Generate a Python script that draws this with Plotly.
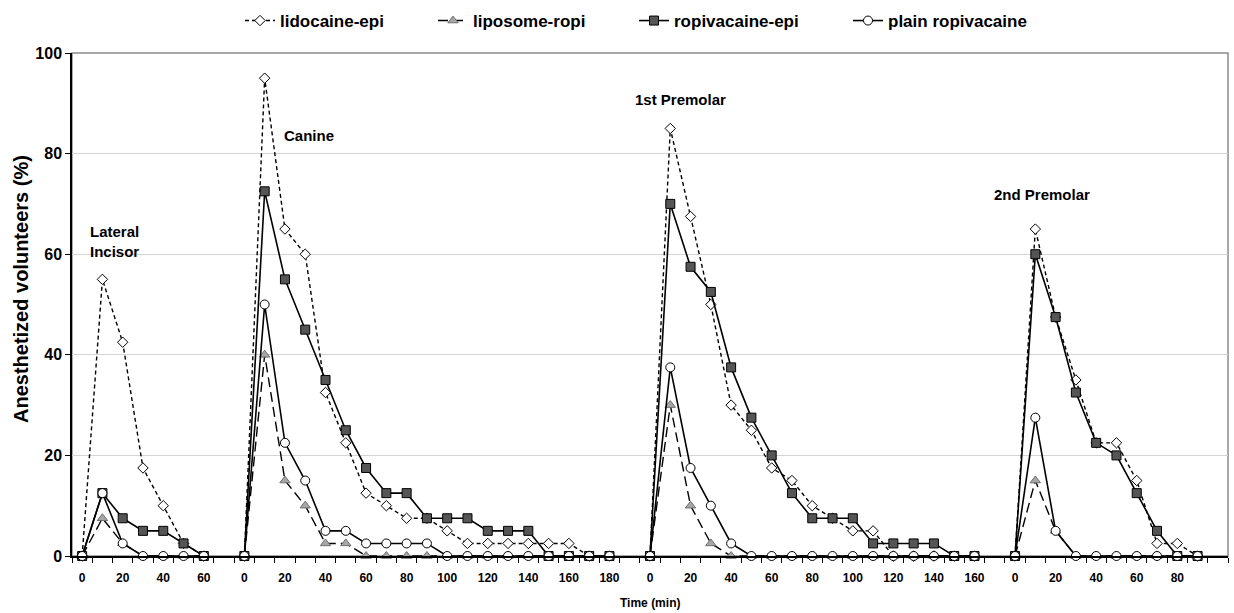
import plotly.graph_objects as go

# Sampling times (min) for each tooth region
times_lateral = [0, 10, 20, 30, 40, 50, 60]
times_canine = [0, 10, 20, 30, 40, 50, 60, 70, 80, 90, 100, 110, 120, 130, 140, 150, 160, 170, 180]
times_pm1 = [0, 10, 20, 30, 40, 50, 60, 70, 80, 90, 100, 110, 120, 130, 140, 150, 160]
times_pm2 = [0, 10, 20, 30, 40, 50, 60, 70, 80, 90]

region_names = ["Lateral<br>Incisor", "Canine", "1st Premolar", "2nd Premolar"]

# Anesthetized volunteers (%) per formulation and region
lido_lateral = [0, 55, 42.5, 17.5, 10, 2.5, 0]
lido_canine = [0, 95, 65, 60, 32.5, 22.5, 12.5, 10, 7.5, 7.5, 5, 2.5, 2.5, 2.5, 2.5, 2.5, 2.5, 0, 0]
lido_pm1 = [0, 85, 67.5, 50, 30, 25, 17.5, 15, 10, 7.5, 5, 5, 0, 0, 0, 0, 0]
lido_pm2 = [0, 65, 47.5, 35, 22.5, 22.5, 15, 2.5, 2.5, 0]

lipo_lateral = [0, 7.5, 2.5, 0, 0, 0, 0]
lipo_canine = [0, 40, 15, 10, 2.5, 2.5, 0, 0, 0, 0, 0, 0, 0, 0, 0, 0, 0, 0, 0]
lipo_pm1 = [0, 30, 10, 2.5, 0, 0, 0, 0, 0, 0, 0, 0, 0, 0, 0, 0, 0]
lipo_pm2 = [0, 15, 5, 0, 0, 0, 0, 0, 0, 0]

ropi_epi_lateral = [0, 12.5, 7.5, 5, 5, 2.5, 0]
ropi_epi_canine = [0, 72.5, 55, 45, 35, 25, 17.5, 12.5, 12.5, 7.5, 7.5, 7.5, 5, 5, 5, 0, 0, 0, 0]
ropi_epi_pm1 = [0, 70, 57.5, 52.5, 37.5, 27.5, 20, 12.5, 7.5, 7.5, 7.5, 2.5, 2.5, 2.5, 2.5, 0, 0]
ropi_epi_pm2 = [0, 60, 47.5, 32.5, 22.5, 20, 12.5, 5, 0, 0]

plain_lateral = [0, 12.5, 2.5, 0, 0, 0, 0]
plain_canine = [0, 50, 22.5, 15, 5, 5, 2.5, 2.5, 2.5, 2.5, 0, 0, 0, 0, 0, 0, 0, 0, 0]
plain_pm1 = [0, 37.5, 17.5, 10, 2.5, 0, 0, 0, 0, 0, 0, 0, 0, 0, 0, 0, 0]
plain_pm2 = [0, 27.5, 5, 0, 0, 0, 0, 0, 0, 0]

panels_t = [times_lateral, times_canine, times_pm1, times_pm2]

# Category positions: regions laid end to end with one empty slot between them
starts = []
pos = 0
for t in panels_t:
    starts.append(pos)
    pos += len(t) + 1
n_slots = pos - 1

def join(series_parts):
    xs, ys = [], []
    for k, (t, vals) in enumerate(zip(panels_t, series_parts)):
        if k:
            xs.append(None)
            ys.append(None)
        xs += [starts[k] + i for i in range(len(t))]
        ys += list(vals)
    return xs, ys

tickvals, ticktext = [], []
for k, t in enumerate(panels_t):
    for i, tv in enumerate(t):
        if tv % 20 == 0:
            tickvals.append(starts[k] + i)
            ticktext.append(str(tv))

FONT = "Liberation Sans, Arial, sans-serif"

series = [
    dict(name="lidocaine-epi", parts=[lido_lateral, lido_canine, lido_pm1, lido_pm2],
         line=dict(color="black", width=1.4, dash="4px,3px"),
         marker=dict(symbol="diamond", size=8, color="white", line=dict(color="black", width=1))),
    dict(name="liposome-ropi", parts=[lipo_lateral, lipo_canine, lipo_pm1, lipo_pm2],
         line=dict(color="black", width=1.4, dash="10px,5px"),
         marker=dict(symbol="triangle-up", size=9, color="#a6a6a6", line=dict(color="#6e6e6e", width=1))),
    dict(name="ropivacaine-epi", parts=[ropi_epi_lateral, ropi_epi_canine, ropi_epi_pm1, ropi_epi_pm2],
         line=dict(color="black", width=1.6),
         marker=dict(symbol="square", size=9, color="#555555", line=dict(color="black", width=1))),
    dict(name="plain ropivacaine", parts=[plain_lateral, plain_canine, plain_pm1, plain_pm2],
         line=dict(color="black", width=1.6),
         marker=dict(symbol="circle", size=9, color="white", line=dict(color="black", width=1))),
]

W, H = 1234, 613
ML, MR, MT, MB = 72, 6, 53, 57
pw = W - ML - MR
ph = H - MT - MB

def px_x(px):
    return (px - ML) / pw

def px_y(py):
    return 1 - (py - MT) / ph

legend_ids = ["legend", "legend2", "legend3", "legend4"]
legend_left = [240, 433, 634, 848]

fig = go.Figure()
for s, lid in zip(series, legend_ids):
    xs, ys = join(s["parts"])
    fig.add_trace(go.Scatter(x=xs, y=ys, mode="lines+markers", name=s["name"],
                             line=s["line"], marker=s["marker"], connectgaps=False,
                             cliponaxis=False, legend=lid))

legend_layout = {}
for lid, lx in zip(legend_ids, legend_left):
    legend_layout[lid] = dict(orientation="h", x=px_x(lx), xanchor="left", y=px_y(21), yanchor="middle",
                              font=dict(size=17, family=FONT, weight="bold"), itemwidth=30,
                              bgcolor="rgba(0,0,0,0)")

fig.update_layout(
    width=W, height=H,
    margin=dict(l=ML, r=MR, t=MT, b=MB, autoexpand=False),
    paper_bgcolor="white", plot_bgcolor="white",
    font=dict(family=FONT, color="black"),
    showlegend=True,
    **legend_layout,
    xaxis=dict(range=[-0.5, n_slots + 0.5], tickmode="array", tickvals=tickvals, ticktext=ticktext,
               ticks="", ticklabelstandoff=10, showgrid=False, zeroline=False, showline=True,
               linecolor="black", linewidth=1.5,
               tickfont=dict(size=12, family=FONT, weight="bold"),
               minor=dict(ticks="outside", ticklen=5, tickcolor="black", tick0=-0.5, dtick=1, showgrid=False)),
    yaxis=dict(range=[0, 100], tickmode="array", tickvals=[0, 20, 40, 60, 80, 100],
               ticks="outside", ticklen=5, tickcolor="black", showgrid=True, gridcolor="#d4d4d4",
               gridwidth=1, zeroline=False, showline=True, linecolor="black", linewidth=1.5,
               tickfont=dict(size=16, family=FONT, weight="bold")),
)

# Plot-area frame
fig.add_shape(type="rect", xref="paper", yref="paper", x0=0, x1=1, y0=0, y1=1,
              line=dict(color="#8c8c8c", width=1.5), layer="below")

# Region labels
label_pos = [(0.28, 62.6), (9.84, 83.6), (27.17, 90.7), (44.84, 71.8)]
for name, (lx, ly) in zip(region_names, label_pos):
    fig.add_annotation(x=lx, y=ly, xref="x", yref="y", text=name, showarrow=False,
                       xanchor="left", yanchor="middle", align="left",
                       font=dict(size=15, family=FONT, weight="bold"))

# Axis titles
fig.add_annotation(x=px_x(21), y=px_y(289), xref="paper", yref="paper", text="Anesthetized volunteers (%)",
                   textangle=-90, showarrow=False, xanchor="center", yanchor="middle",
                   font=dict(size=20, family=FONT, weight="bold"))
fig.add_annotation(x=0.5, y=px_y(603), xref="paper", yref="paper", text="Time (min)",
                   showarrow=False, xanchor="center", yanchor="middle",
                   font=dict(size=12, family=FONT, weight="bold"))

fig.write_html("out.html")
